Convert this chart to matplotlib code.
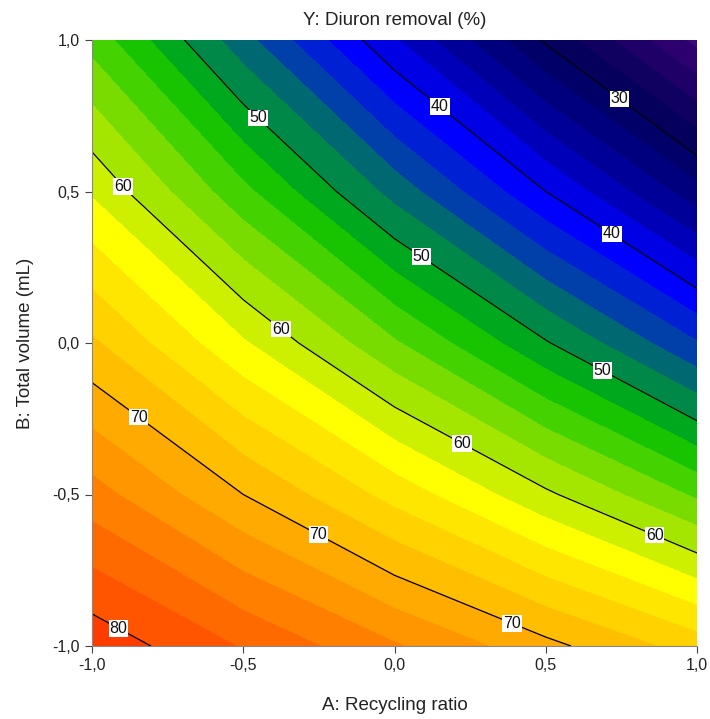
import numpy as np
import matplotlib
matplotlib.use("Agg")
import matplotlib.pyplot as plt
from matplotlib.ticker import FixedLocator, FuncFormatter

plt.rcParams["font.family"] = ["Liberation Sans", "DejaVu Sans"]

# Coded factor levels
recycling_ratio = [-1.0, -0.5, 0.0, 0.5, 1.0]   # A
total_volume = [-1.0, -0.5, 0.0, 0.5, 1.0]      # B

# Diuron removal (%) on the factor grid; rows follow total_volume, columns recycling_ratio
removal = [
    [81.4, 77.8, 74.2, 70.6, 67.0],
    [74.8, 70.0, 65.2, 60.4, 55.6],
    [68.3, 62.2, 56.2, 50.2, 44.1],
    [61.7, 54.5, 47.2, 40.0, 32.7],
    [55.2, 46.7, 38.2, 29.7, 21.3],
]

line_levels = [30, 40, 50, 60, 70, 80]
fill_levels = list(range(20, 84, 2))

band_colors = [
    "#3c0a78", "#2c006e", "#1e0066", "#100060", "#04005c",
    "#000068", "#00007e", "#000098", "#0000b8", "#0000e4",
    "#0000ff", "#0020d4", "#0040a8", "#006870", "#008848",
    "#00a81e", "#18c400", "#44d200", "#78dc00", "#a4e600",
    "#ccf000", "#ffff00", "#ffe600", "#ffd200", "#ffbe00",
    "#ffaa00", "#ff9600", "#ff8000", "#ff6a00", "#ff5400",
    "#ff3c00",
]

label_spots = [
    (0.742, 0.802),
    (0.144, 0.772), (0.716, 0.356),
    (-0.455, 0.739), (0.088, 0.284), (0.686, -0.092),
    (-0.90, 0.515), (-0.375, 0.046), (0.22, -0.337), (0.858, -0.640),
    (-0.855, -0.257), (-0.256, -0.640), (0.385, -0.934),
    (-0.92, -0.954),
]

A = np.array(recycling_ratio)
B = np.array(total_volume)
Z = np.array(removal)

fig = plt.figure(figsize=(7.10, 7.19), dpi=100)
ax = fig.add_axes([92 / 710, 73 / 719, 605 / 710, 606 / 719])

cf = ax.contourf(A, B, Z, levels=fill_levels, colors=band_colors)
cf.set_edgecolor("face")
cf.set_linewidth(0.6)

cs = ax.contour(A, B, Z, levels=line_levels, colors="black", linewidths=0.9)
labels = ax.clabel(cs, fmt="%d", fontsize=11.5, inline=False, manual=label_spots)
for t in labels:
    t.set_rotation(0)
    t.set_color("#111111")
    t.set_bbox(dict(facecolor="white", edgecolor="none", pad=0.6))
    t.set_zorder(5)

ax.set_xlim(-1, 1)
ax.set_ylim(-1, 1)

ticks = [-1.0, -0.5, 0.0, 0.5, 1.0]
fmt = FuncFormatter(lambda v, _: f"{v:.1f}".replace(".", ","))
ax.xaxis.set_major_locator(FixedLocator(ticks))
ax.yaxis.set_major_locator(FixedLocator(ticks))
ax.xaxis.set_major_formatter(fmt)
ax.yaxis.set_major_formatter(fmt)
ax.tick_params(direction="out", length=5, width=0.8, color="#444444",
               labelsize=11.5, labelcolor="#222222", pad=4)

for side in ("top", "right"):
    ax.spines[side].set_visible(False)
for side in ("left", "bottom"):
    ax.spines[side].set_color("#888888")
    ax.spines[side].set_linewidth(0.8)

ax.set_xlabel("A: Recycling ratio", fontsize=13.5, color="#222222", labelpad=17)
ax.set_ylabel("B: Total volume (mL)", fontsize=13.5, color="#222222", labelpad=13)
ax.set_title("Y: Diuron removal (%)", fontsize=13.5, color="#222222", pad=11)

fig.savefig("out.png", dpi=100)
